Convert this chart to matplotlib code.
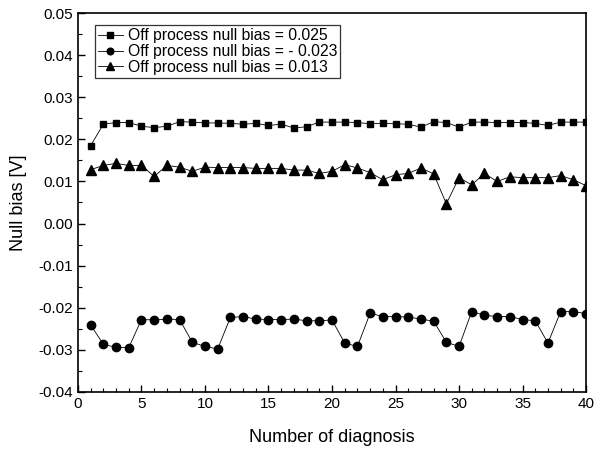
import matplotlib
matplotlib.use("Agg")
import matplotlib.pyplot as plt
from matplotlib.ticker import MultipleLocator

plt.rcParams['font.family'] = ['Liberation Sans', 'DejaVu Sans']

x = list(range(1, 41))
sq = [0.0185, 0.0236, 0.0240, 0.0240, 0.0231, 0.0228, 0.0231, 0.0242, 0.0241, 0.0239,
      0.0239, 0.0238, 0.0236, 0.0238, 0.0233, 0.0236, 0.0227, 0.0230, 0.0241, 0.0241,
      0.0241, 0.0240, 0.0237, 0.0238, 0.0237, 0.0236, 0.0229, 0.0242, 0.0240, 0.0229,
      0.0241, 0.0241, 0.0240, 0.0240, 0.0240, 0.0238, 0.0233, 0.0241, 0.0241, 0.0241]
ci = [-0.0241, -0.0287, -0.0294, -0.0295, -0.0228, -0.0229, -0.0227, -0.0228, -0.0282, -0.0292,
      -0.0298, -0.0223, -0.0221, -0.0227, -0.0228, -0.0228, -0.0227, -0.0231, -0.0231, -0.0229,
      -0.0284, -0.0292, -0.0213, -0.0221, -0.0221, -0.0222, -0.0227, -0.0232, -0.0282, -0.0292,
      -0.0209, -0.0218, -0.0221, -0.0221, -0.0228, -0.0231, -0.0284, -0.0209, -0.0209, -0.0214]
tr = [0.0128, 0.0138, 0.0143, 0.0138, 0.0138, 0.0112, 0.0138, 0.0134, 0.0124, 0.0134,
      0.0133, 0.0133, 0.0133, 0.0131, 0.0131, 0.0131, 0.0127, 0.0127, 0.0119, 0.0124,
      0.0140, 0.0132, 0.0121, 0.0104, 0.0116, 0.0119, 0.0132, 0.0118, 0.0047, 0.0109,
      0.0092, 0.0119, 0.0100, 0.0111, 0.0109, 0.0109, 0.0109, 0.0114, 0.0104, 0.0090]
labels = ["Off process null bias = 0.025",
          "Off process null bias = - 0.023",
          "Off process null bias = 0.013"]

fig = plt.figure(figsize=(5.95, 4.51), dpi=100)
ax = fig.add_axes([0.131, 0.131, 0.854, 0.840])

ax.plot(x, sq, '-', marker='s', color='black', lw=0.6, ms=5, label=labels[0])
ax.plot(x, ci, '-', marker='o', color='black', lw=0.6, ms=6, label=labels[1])
ax.plot(x, tr, '-', marker='^', color='black', lw=0.6, ms=6.5, label=labels[2])

ax.set_xlim(0, 40)
ax.set_ylim(-0.04, 0.05)
ax.xaxis.set_major_locator(MultipleLocator(5))
ax.xaxis.set_minor_locator(MultipleLocator(1))
ax.yaxis.set_major_locator(MultipleLocator(0.01))
ax.yaxis.set_minor_locator(MultipleLocator(0.005))
ax.yaxis.set_major_formatter(matplotlib.ticker.FormatStrFormatter('%.2f'))
ax.tick_params(which='both', direction='in', labelsize=11, color='black')
ax.tick_params(which='major', length=5, width=1)
ax.tick_params(which='minor', length=3, width=0.8)
for s in ax.spines.values():
    s.set_linewidth(1.2)

ax.set_xlabel("Number of diagnosis", fontsize=13, labelpad=13)
ax.set_ylabel("Null bias [V]", fontsize=13, labelpad=8)

leg = ax.legend(loc='upper left', bbox_to_anchor=(0.033, 0.968), fontsize=11.3,
                frameon=True, fancybox=False, edgecolor='black', borderpad=0.2,
                handlelength=1.6, labelspacing=0.05, handletextpad=0.3, borderaxespad=0,
                markerscale=0.8)
leg.get_frame().set_linewidth(0.9)

fig.savefig("out.png", dpi=100)
